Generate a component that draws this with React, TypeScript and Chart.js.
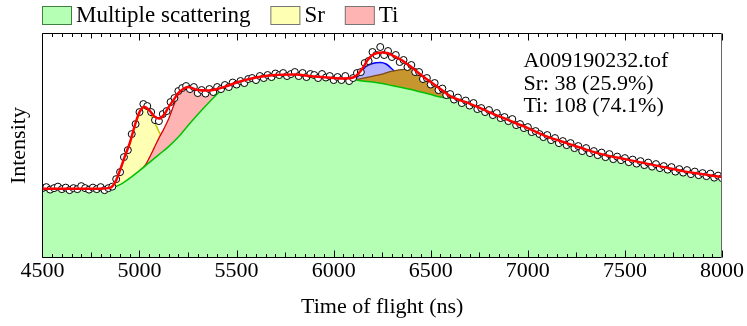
import React, { useEffect, useRef } from "react";
import { Chart, registerables } from "chart.js";

Chart.register(...registerables);

const FONT = "'Liberation Serif', 'Times New Roman', serif";

// ---- axis ----
const X_MIN = 4500;
const X_MAX = 8000;
const X_MAJOR = 500;
const X_MINOR = 50;
const Y_MIN = 0;
const Y_MAX = 225;

// ---- measured spectrum (time of flight grid start/step + counts) ----
const TOF_START = 4500;
const TOF_STEP = 20;
const measuredCounts = [
  70, 71, 68.5, 70, 71.5, 69, 70.5, 68, 70, 69,
  72, 70, 68.5, 70.5, 69, 71, 68, 70, 71.5, 79,
  86, 101, 108, 124, 134, 146, 154, 152, 146, 138,
  137, 144, 147, 156, 160, 167, 170, 172, 169, 171,
  165, 168, 164.5, 169, 166, 171, 169, 173, 171, 175.5,
  173.5, 177, 175, 179, 180, 178, 182, 180, 183, 181,
  184.5, 183, 185, 182, 184, 186, 182, 185, 181, 184,
  183, 180, 184, 180.5, 182, 178, 181, 178, 182, 177,
  180, 185, 186, 195, 197, 206, 203, 211, 203, 207,
  201, 203, 196, 198, 191, 193, 186, 186, 179, 180,
  173.5, 175, 168, 169.5, 163, 164, 158.5, 160.5, 155, 157.5,
  152.5, 155, 149, 150, 146, 148, 143, 145, 140, 141,
  137, 139, 133, 134, 130, 131, 126, 127, 124, 121,
  123, 118, 120, 115, 117, 113, 115, 110, 112, 107,
  110, 105, 107, 103, 105.5, 101, 104, 99, 101.5, 98,
  100, 96, 98.5, 94.5, 97, 93, 95.5, 91.5, 94, 90,
  92, 88.5, 91, 86.5, 89, 85.5, 88, 84, 86.5, 83,
  85, 82, 84.5, 80.5, 82.5, 80,
];

// ---- total fit ----
const fitTof = [
  4500, 4600, 4700, 4800, 4850, 4875, 4900, 4925, 4950, 4975,
  5000, 5025, 5050, 5075, 5100, 5125, 5150, 5175, 5200, 5225,
  5250, 5300, 5350, 5400, 5450, 5500, 5600, 5700, 5800, 5900,
  6000, 6050, 6100, 6125, 6150, 6175, 6200, 6225, 6250, 6275,
  6300, 6325, 6350, 6375, 6400, 6450, 6500, 6550, 6600, 6650,
  6700, 6800, 6900, 7000, 7100, 7200, 7300, 7400, 7500, 7600,
  7700, 7800, 7900, 8000,
];
const fitCounts = [
  69.5, 69.5, 69.5, 69.5, 70.5, 76, 88, 102, 115, 132,
  146, 151, 148, 142, 139.5, 143, 151, 158, 165, 169,
  171, 168, 167.5, 169, 172, 175.5, 180.5, 183, 183.5, 181.5,
  180, 179.5, 180.5, 184, 190, 198, 203, 205, 205.5, 205,
  203, 200.5, 198, 194.5, 191, 183, 176, 169, 162, 158,
  154.5, 146, 138, 130, 121.5, 115, 108.5, 103, 99, 95,
  91, 87, 84, 81,
];

// ---- multiple scattering background ----
const bgTof = [
  4500, 4600, 4700, 4800, 4850, 4900, 4950, 5000, 5050, 5100,
  5150, 5200, 5250, 5300, 5350, 5400, 5430, 5450, 5500, 5600,
  5700, 5800, 5900, 6000, 6050, 6100, 6130, 6200, 6250, 6300,
  6350, 6400, 6450, 6500, 6550, 6600, 6650, 6700, 6800, 6900,
  7000, 7100, 7200, 7300, 7400, 7500, 7600, 7700, 7800, 7900,
  8000,
];
const bgCounts = [
  69.5, 69.5, 69.5, 69.5, 70, 73.5, 80, 87.5, 95.5, 103.5,
  111.5, 121, 132.5, 143.5, 154, 164, 169.5, 172, 175.5, 180.5,
  183, 183.5, 181.5, 180, 179.5, 179, 177.5, 176, 174.5, 172.5,
  170.5, 168.5, 166, 163.5, 161, 159.5, 158, 154.5, 146, 138,
  130, 121.5, 115, 108.5, 103, 99, 95, 91, 87, 84,
  81,
];

// ---- Sr peak (background + Sr) ----
const srTof = [4850, 4875, 4900, 4925, 4950, 4975, 5000, 5025, 5050, 5075, 5100, 5125, 5150, 5200, 5250];
const srCounts = [70.2, 76, 88, 102, 115, 132, 146, 150.5, 146, 137, 126.5, 117, 112.5, 121, 132.5];

// ---- Ti peak (background + Ti) ----
const tiTof = [5000, 5030, 5050, 5075, 5100, 5125, 5150, 5175, 5200, 5225, 5250, 5300, 5350, 5400, 5430, 5450];
const tiCounts = [87.5, 93, 100, 110, 120, 129, 139, 152, 164, 169, 171, 168, 167.5, 169, 170.5, 172];

// ---- secondary Sr feature (blue) ----
const sr2Tof = [6110, 6137, 6163, 6200, 6240, 6270, 6295, 6317, 6340, 6370, 6400];
const sr2Counts = [178.8, 185, 191, 194.5, 195.5, 194, 190, 186, 181, 176, 170];

// ---- secondary Ti feature (brown) ----
const ti2Tof = [6110, 6130, 6205, 6250, 6290, 6330, 6360, 6400, 6450, 6500, 6550, 6600, 6650];
const ti2Counts = [178.8, 179, 182, 184, 186.3, 188, 188.7, 190, 183, 176, 169, 162, 158];

const legendLabels = ["Multiple scattering", "Sr", "Ti"];
const legendFills = ["#b4ffb4", "#ffffb4", "#ffb4b4"];
const legendBorders = ["#3f7f3f", "#777777", "#777777"];
const annotationLines = ["A009190232.tof", "Sr: 38 (25.9%)", "Ti: 108 (74.1%)"];

const pairs = (xs: number[], ys: number[]) => xs.map((x, i) => ({ x, y: ys[i] }));

const framePlugin = {
  id: "frameTicks",
  afterDraw(chart: any) {
    const { ctx, chartArea: a, scales } = chart;
    const xs = scales.x;
    const L = Math.round(a.left) + 0.5;
    const R = Math.round(a.right) - 0.5;
    const T = Math.round(a.top) + 0.5;
    const B = Math.round(a.bottom) - 0.5;
    ctx.save();
    ctx.strokeStyle = "#000";
    ctx.lineWidth = 1;
    ctx.beginPath();
    for (let v = X_MIN; v <= X_MAX; v += X_MINOR) {
      const px = Math.round(xs.getPixelForValue(v)) + 0.5;
      const len = v % X_MAJOR === 0 ? 7 : v % (X_MAJOR / 2) === 0 ? 5 : 3.5;
      ctx.moveTo(px, B);
      ctx.lineTo(px, B - len);
      ctx.moveTo(px, T);
      ctx.lineTo(px, T + len);
    }
    ctx.moveTo(L, B);
    ctx.lineTo(L, T);
    ctx.lineTo(R, T);
    ctx.moveTo(L, B);
    ctx.lineTo(R, B);
    ctx.stroke();
    ctx.strokeStyle = "#666";
    ctx.beginPath();
    ctx.moveTo(R, T);
    ctx.lineTo(R, B);
    ctx.stroke();

    // legend
    ctx.font = `23px ${FONT}`;
    ctx.textBaseline = "alphabetic";
    let x = Math.round(a.left);
    legendLabels.forEach((label, i) => {
      ctx.fillStyle = legendFills[i];
      ctx.fillRect(x, 6, 30, 19);
      ctx.strokeStyle = legendBorders[i];
      ctx.strokeRect(x + 0.5, 6.5, 29, 18);
      ctx.fillStyle = "#000";
      ctx.fillText(label, x + 34, 22);
      x += 34 + ctx.measureText(label).width + 20;
    });

    // annotation
    ctx.font = `22px ${FONT}`;
    annotationLines.forEach((line, i) => {
      ctx.fillText(line, a.left + 481, a.top + 34 + i * 22.5);
    });
    ctx.restore();
  },
};

export default function App() {
  const ref = useRef<HTMLCanvasElement | null>(null);

  useEffect(() => {
    if (!ref.current) return;
    const smooth = { cubicInterpolationMode: "monotone" as const, pointRadius: 0 };
    const chart = new Chart(ref.current, {
      type: "line",
      data: {
        datasets: [
          {
            label: "Sr",
            data: pairs(srTof, srCounts),
            borderColor: "#c8c800",
            borderWidth: 1.5,
            backgroundColor: "#ffffb4",
            fill: "origin",
            order: 10,
            ...smooth,
          },
          {
            label: "Ti",
            data: pairs(tiTof, tiCounts),
            borderColor: "#dd0000",
            borderWidth: 1.3,
            backgroundColor: "#ffb4b4",
            fill: "origin",
            order: 9,
            ...smooth,
          },
          {
            label: "Sr (2)",
            data: pairs(sr2Tof, sr2Counts),
            borderColor: "#0000ff",
            borderWidth: 1.5,
            backgroundColor: "#b4b4ff",
            fill: "origin",
            order: 8,
            ...smooth,
          },
          {
            label: "Ti (2)",
            data: pairs(ti2Tof, ti2Counts),
            borderColor: "#7a4a1a",
            borderWidth: 1.3,
            backgroundColor: "#c8962e",
            fill: "origin",
            order: 7,
            ...smooth,
          },
          {
            label: "Multiple scattering",
            data: pairs(bgTof, bgCounts),
            borderColor: "#00c000",
            borderWidth: 1.5,
            backgroundColor: "#b4ffb4",
            fill: "origin",
            order: 6,
            ...smooth,
          },
          {
            label: "Measured",
            data: measuredCounts.map((y, i) => ({ x: TOF_START + i * TOF_STEP, y })),
            showLine: false,
            pointRadius: 3.5,
            pointBackgroundColor: "#ffffff",
            pointBorderColor: "#000000",
            pointBorderWidth: 1,
            order: 2,
          },
          {
            label: "Fit",
            data: pairs(fitTof, fitCounts),
            borderColor: "#ff0000",
            borderWidth: 2.5,
            fill: false,
            order: 1,
            ...smooth,
          },
        ],
      },
      options: {
        animation: false,
        responsive: false,
        devicePixelRatio: 1,
        events: [],
        layout: { padding: { left: 0, right: 25, top: 33, bottom: 1 } },
        plugins: { legend: { display: false }, tooltip: { enabled: false } },
        scales: {
          x: {
            type: "linear",
            min: X_MIN,
            max: X_MAX,
            grid: { display: false, drawTicks: false },
            border: { display: false },
            ticks: {
              stepSize: X_MAJOR,
              autoSkip: false,
              maxRotation: 0,
              padding: 0,
              color: "#000",
              font: { family: FONT, size: 22 },
              callback: (v: any) => String(v),
            },
            title: {
              display: true,
              text: "Time of flight (ns)",
              color: "#000",
              font: { family: FONT, size: 22 },
              padding: { top: 9, bottom: 5 },
            },
          },
          y: {
            min: Y_MIN,
            max: Y_MAX,
            grid: { display: false, drawTicks: false },
            border: { display: false },
            ticks: { display: false },
            title: {
              display: true,
              text: "Intensity",
              color: "#000",
              font: { family: FONT, size: 22 },
              padding: { top: 6, bottom: 10 },
            },
          },
        },
      },
      plugins: [framePlugin],
    });
    return () => chart.destroy();
  }, []);

  return (
    <div style={{ position: "fixed", left: 0, top: 0, width: 747, height: 326, background: "#fff" }}>
      <canvas ref={ref} width={747} height={326} style={{ width: 747, height: 326, display: "block" }} />
    </div>
  );
}
